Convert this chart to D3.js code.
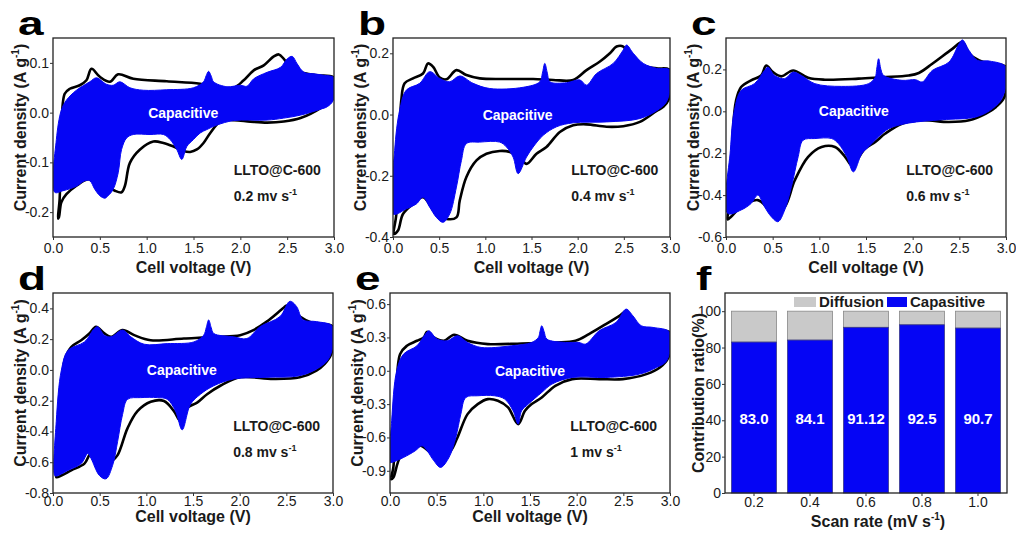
<!DOCTYPE html>
<html>
<head>
<meta charset="utf-8">
<script src="https://cdn.jsdelivr.net/npm/d3@7"></script>
<style>
body { margin: 0; background: #fff; }
text { font-family: "Liberation Sans", Arial, sans-serif; }
</style>
</head>
<body>
<svg id="fig" width="1016" height="534"></svg>
<script>
////////////////////////////////////////////////////////////////////////
// Data: [voltage (V), current density (A/g)]
// each loop is closed, anodic branch left->right then cathodic back

let outlineA = [[0.054,-0.213],[0.071,-0.174],[0.089,-0.041],[0.125,0.038],[0.179,0.048],[0.286,0.055],[0.357,0.065],[0.411,0.088],[0.5,0.072],[0.607,0.062],[0.696,0.077],[0.857,0.068],[1.214,0.063],[1.571,0.058],[1.75,0.05],[1.929,0.05],[2.036,0.065],[2.143,0.085],[2.25,0.095],[2.357,0.113],[2.411,0.117],[2.464,0.108],[2.536,0.091],[2.643,0.081],[2.821,0.075],[3.0,0.07],[2.982,0.035],[2.946,0.022],[2.857,0.009],[2.643,-0.011],[2.464,-0.018],[2.286,-0.02],[2.107,-0.018],[1.929,-0.015],[1.786,-0.018],[1.679,-0.041],[1.607,-0.061],[1.536,-0.074],[1.464,-0.079],[1.393,-0.077],[1.286,-0.068],[1.179,-0.061],[1.071,-0.058],[0.929,-0.074],[0.821,-0.101],[0.768,-0.147],[0.732,-0.16],[0.661,-0.157],[0.571,-0.147],[0.464,-0.14],[0.375,-0.134],[0.25,-0.147],[0.143,-0.164],[0.089,-0.18],[0.064,-0.21]];
let capA = [[0.018,-0.16],[0.036,-0.054],[0.089,0.005],[0.143,0.025],[0.25,0.045],[0.393,0.062],[0.464,0.07],[0.571,0.057],[0.643,0.055],[0.714,0.062],[0.821,0.05],[0.964,0.045],[1.214,0.046],[1.5,0.05],[1.607,0.062],[1.635,0.074],[1.661,0.083],[1.69,0.073],[1.714,0.062],[1.857,0.052],[2.0,0.055],[2.071,0.053],[2.143,0.068],[2.286,0.081],[2.429,0.091],[2.5,0.108],[2.554,0.113],[2.607,0.098],[2.679,0.081],[2.786,0.078],[2.893,0.075],[3.0,0.07],[2.993,0.025],[2.929,0.012],[2.857,0.007],[2.643,-0.005],[2.464,-0.011],[2.286,-0.015],[1.929,-0.016],[1.75,-0.025],[1.643,-0.034],[1.571,-0.041],[1.5,-0.054],[1.429,-0.068],[1.375,-0.094],[1.321,-0.074],[1.25,-0.054],[1.179,-0.044],[1.036,-0.044],[0.857,-0.044],[0.786,-0.051],[0.732,-0.074],[0.696,-0.121],[0.643,-0.154],[0.589,-0.167],[0.554,-0.172],[0.5,-0.167],[0.446,-0.154],[0.393,-0.137],[0.339,-0.137],[0.25,-0.148],[0.107,-0.157]];

let outlineB = [[0.011,-0.39],[0.036,-0.325],[0.065,-0.117],[0.09,0.047],[0.126,0.102],[0.217,0.118],[0.325,0.134],[0.379,0.167],[0.434,0.156],[0.506,0.121],[0.578,0.115],[0.687,0.145],[0.795,0.129],[0.94,0.118],[1.229,0.116],[1.518,0.116],[1.735,0.113],[1.952,0.113],[2.096,0.145],[2.241,0.173],[2.349,0.2],[2.421,0.222],[2.494,0.222],[2.566,0.189],[2.674,0.162],[2.855,0.151],[3.0,0.145],[2.982,0.047],[2.927,0.025],[2.855,0.012],[2.674,-0.024],[2.494,-0.038],[2.313,-0.04],[2.096,-0.032],[1.952,-0.035],[1.807,-0.057],[1.662,-0.106],[1.554,-0.128],[1.446,-0.161],[1.373,-0.139],[1.265,-0.122],[1.156,-0.119],[1.012,-0.128],[0.904,-0.15],[0.795,-0.204],[0.723,-0.281],[0.687,-0.336],[0.578,-0.341],[0.47,-0.325],[0.325,-0.27],[0.217,-0.292],[0.108,-0.325],[0.054,-0.379]];
let capB = [[0.0,-0.325],[0.018,-0.117],[0.072,0.014],[0.145,0.08],[0.289,0.102],[0.398,0.14],[0.506,0.118],[0.614,0.107],[0.723,0.126],[0.867,0.102],[1.048,0.085],[1.41,0.089],[1.59,0.107],[1.618,0.135],[1.644,0.167],[1.672,0.135],[1.699,0.107],[1.879,0.104],[2.024,0.113],[2.096,0.096],[2.205,0.134],[2.385,0.167],[2.494,0.211],[2.53,0.227],[2.602,0.2],[2.711,0.167],[2.855,0.151],[3.0,0.145],[2.971,0.047],[2.891,0.02],[2.674,-0.013],[2.313,-0.024],[1.952,-0.027],[1.771,-0.04],[1.626,-0.068],[1.518,-0.106],[1.446,-0.139],[1.355,-0.193],[1.301,-0.139],[1.229,-0.106],[1.156,-0.09],[0.94,-0.09],[0.795,-0.095],[0.741,-0.15],[0.687,-0.237],[0.614,-0.325],[0.542,-0.352],[0.47,-0.336],[0.398,-0.303],[0.325,-0.27],[0.253,-0.292],[0.145,-0.308]];

let outlineC = [[0.018,-0.516],[0.047,-0.424],[0.072,-0.106],[0.108,0.052],[0.162,0.116],[0.269,0.148],[0.377,0.171],[0.431,0.219],[0.503,0.187],[0.593,0.167],[0.719,0.195],[0.88,0.16],[1.06,0.151],[1.419,0.156],[1.671,0.163],[1.958,0.171],[2.066,0.183],[2.21,0.227],[2.425,0.298],[2.533,0.33],[2.605,0.275],[2.713,0.243],[2.857,0.227],[3.0,0.211],[2.982,0.068],[2.893,0.021],[2.785,-0.011],[2.605,-0.043],[2.389,-0.051],[2.102,-0.043],[1.886,-0.059],[1.707,-0.106],[1.599,-0.146],[1.491,-0.178],[1.401,-0.233],[1.347,-0.257],[1.276,-0.217],[1.168,-0.17],[1.024,-0.17],[0.88,-0.217],[0.737,-0.329],[0.629,-0.456],[0.521,-0.487],[0.341,-0.424],[0.162,-0.456],[0.054,-0.503]];
let capC = [[0.018,-0.487],[0.047,-0.186],[0.09,0.005],[0.162,0.1],[0.305,0.132],[0.413,0.195],[0.449,0.211],[0.521,0.171],[0.629,0.156],[0.719,0.187],[0.808,0.171],[0.952,0.132],[1.24,0.119],[1.527,0.132],[1.599,0.163],[1.614,0.2],[1.635,0.251],[1.66,0.2],[1.689,0.171],[1.886,0.148],[2.03,0.151],[2.102,0.14],[2.21,0.195],[2.389,0.235],[2.497,0.322],[2.533,0.341],[2.605,0.29],[2.695,0.243],[2.821,0.24],[3.0,0.211],[2.964,0.068],[2.857,0.013],[2.677,-0.027],[2.318,-0.04],[1.958,-0.056],[1.743,-0.083],[1.635,-0.122],[1.527,-0.17],[1.455,-0.202],[1.365,-0.289],[1.294,-0.217],[1.204,-0.154],[1.132,-0.13],[0.952,-0.13],[0.826,-0.138],[0.773,-0.217],[0.701,-0.36],[0.629,-0.471],[0.557,-0.527],[0.485,-0.503],[0.413,-0.456],[0.341,-0.4],[0.269,-0.44],[0.162,-0.471]];

let outlineD = [[0.035,-0.697],[0.06,-0.576],[0.089,-0.18],[0.124,0.062],[0.195,0.149],[0.302,0.193],[0.39,0.237],[0.461,0.281],[0.55,0.237],[0.621,0.215],[0.745,0.259],[0.87,0.226],[1.047,0.193],[1.402,0.204],[1.757,0.215],[2.006,0.226],[2.148,0.259],[2.29,0.314],[2.467,0.402],[2.503,0.418],[2.591,0.38],[2.645,0.347],[2.787,0.303],[3.0,0.281],[2.982,0.105],[2.911,0.04],[2.822,-0.004],[2.645,-0.048],[2.361,-0.059],[2.006,-0.048],[1.793,-0.103],[1.651,-0.158],[1.544,-0.213],[1.438,-0.246],[1.367,-0.334],[1.296,-0.268],[1.189,-0.202],[1.047,-0.207],[0.905,-0.268],[0.799,-0.378],[0.692,-0.554],[0.621,-0.598],[0.515,-0.631],[0.408,-0.543],[0.337,-0.609],[0.195,-0.653],[0.089,-0.686]];
let capD = [[0.018,-0.686],[0.035,-0.334],[0.089,-0.004],[0.16,0.127],[0.337,0.182],[0.444,0.27],[0.479,0.281],[0.55,0.226],[0.621,0.215],[0.745,0.259],[0.834,0.215],[0.976,0.167],[1.225,0.171],[1.509,0.182],[1.615,0.226],[1.642,0.275],[1.668,0.325],[1.695,0.275],[1.722,0.237],[1.935,0.215],[2.077,0.204],[2.219,0.281],[2.432,0.347],[2.538,0.446],[2.609,0.413],[2.68,0.325],[2.822,0.314],[3.0,0.281],[2.964,0.084],[2.858,0.018],[2.645,-0.037],[2.29,-0.048],[1.935,-0.059],[1.722,-0.103],[1.58,-0.158],[1.473,-0.224],[1.384,-0.389],[1.313,-0.268],[1.225,-0.191],[1.118,-0.18],[0.941,-0.18],[0.799,-0.191],[0.745,-0.29],[0.692,-0.466],[0.639,-0.62],[0.568,-0.708],[0.497,-0.686],[0.408,-0.576],[0.373,-0.543],[0.302,-0.609],[0.16,-0.653],[0.035,-0.69]];

let outlineE = [[0.011,-0.975],[0.036,-0.87],[0.065,-0.3],[0.108,0.15],[0.181,0.225],[0.289,0.27],[0.361,0.3],[0.398,0.351],[0.47,0.3],[0.578,0.27],[0.687,0.324],[0.831,0.27],[1.048,0.24],[1.41,0.246],[1.771,0.255],[1.988,0.27],[2.132,0.33],[2.313,0.42],[2.458,0.495],[2.53,0.534],[2.602,0.45],[2.711,0.375],[2.855,0.36],[3.0,0.345],[2.982,0.12],[2.891,0.03],[2.747,-0.03],[2.494,-0.075],[2.241,-0.075],[1.952,-0.075],[1.771,-0.135],[1.626,-0.24],[1.518,-0.3],[1.446,-0.36],[1.373,-0.48],[1.265,-0.33],[1.156,-0.27],[1.048,-0.255],[0.94,-0.3],[0.831,-0.39],[0.723,-0.6],[0.651,-0.72],[0.542,-0.78],[0.434,-0.735],[0.325,-0.675],[0.217,-0.72],[0.108,-0.78],[0.036,-0.96]];
let capE = [[0.0,-0.825],[0.018,-0.45],[0.072,0.0],[0.145,0.15],[0.289,0.225],[0.379,0.33],[0.416,0.36],[0.506,0.285],[0.614,0.27],[0.723,0.315],[0.831,0.255],[0.976,0.21],[1.301,0.225],[1.518,0.255],[1.59,0.3],[1.606,0.35],[1.626,0.405],[1.652,0.35],[1.681,0.285],[1.879,0.255],[2.024,0.255],[2.096,0.24],[2.241,0.36],[2.421,0.435],[2.53,0.555],[2.602,0.495],[2.692,0.405],[2.819,0.39],[3.0,0.345],[2.964,0.09],[2.855,0.03],[2.674,-0.03],[2.313,-0.06],[1.952,-0.06],[1.735,-0.12],[1.626,-0.195],[1.482,-0.3],[1.41,-0.36],[1.373,-0.48],[1.319,-0.36],[1.229,-0.255],[1.12,-0.225],[0.94,-0.225],[0.813,-0.24],[0.759,-0.39],[0.705,-0.6],[0.632,-0.78],[0.542,-0.87],[0.47,-0.81],[0.398,-0.72],[0.343,-0.675],[0.271,-0.72],[0.145,-0.78],[0.018,-0.825]];

// panel f: contribution ratio
let scanRates = ["0.2", "0.4", "0.6", "0.8", "1.0"];
let capacitive = [83.0, 84.1, 91.12, 92.5, 90.7];
let capLabels = ["83.0", "84.1", "91.12", "92.5", "90.7"];

// tick values
let voltTicks = [0, 0.5, 1.0, 1.5, 2.0, 2.5, 3.0];
let ticksA = [-0.2, -0.1, 0.0, 0.1];
let ticksB = [-0.4, -0.2, 0.0, 0.2];
let ticksC = [-0.6, -0.4, -0.2, 0.0, 0.2];
let ticksD = [-0.8, -0.6, -0.4, -0.2, 0.0, 0.2, 0.4];
let ticksE = [-0.9, -0.6, -0.3, 0.0, 0.3, 0.6];
let ratioTicks = [0, 20, 40, 60, 80, 100];

////////////////////////////////////////////////////////////////////////
// layout

let blue = "#0505f5";
let svg = d3.select("#fig");

// pad = tick label padding, tOff = offset of the x title below the box
let panels = [
  {id: "a", x0: 53,  x1: 334,  y0: 38,  y1: 237, yDom: [-0.25, 0.15], ticks: ticksA, outline: outlineA, cap: capA, rate: "0.2", pad: 3, tOff: 36, capV: 1.39},
  {id: "b", x0: 393, x1: 670,  y0: 38,  y1: 237, yDom: [-0.4, 0.25],  ticks: ticksB, outline: outlineB, cap: capB, rate: "0.4", pad: 3, tOff: 36, capV: 1.35},
  {id: "c", x0: 726, x1: 1006, y0: 38,  y1: 237, yDom: [-0.6, 0.35],  ticks: ticksC, outline: outlineC, cap: capC, rate: "0.6", pad: 3, tOff: 36, capV: 1.37},
  {id: "d", x0: 53,  x1: 333,  y0: 293, y1: 493, yDom: [-0.8, 0.5],   ticks: ticksD, outline: outlineD, cap: capD, rate: "0.8", pad: 0, tOff: 29, capV: 1.38},
  {id: "e", x0: 390, x1: 670,  y0: 293, y1: 493, yDom: [-1.1, 0.7],   ticks: ticksE, outline: outlineE, cap: capE, rate: "1",   pad: 0, tOff: 29, capV: 1.5}
];

function fmt1(d) { return (Math.abs(d) < 1e-9 ? 0 : d).toFixed(1); }

function styleAxis(g) {
  g.select(".domain").remove();
  g.selectAll(".tick line").attr("stroke", "#333");
  g.selectAll(".tick text").attr("font-size", 14).attr("fill", "#1a1a1a");
}

function yTitle(g, x, y, main, sup, tail) {
  let t = g.append("text")
    .attr("transform", "translate(" + x + "," + y + ") rotate(-90)")
    .attr("text-anchor", "middle")
    .attr("font-size", 16).attr("font-weight", "bold").attr("fill", "#1a1a1a");
  t.append("tspan").text(main);
  if (sup) {
    t.append("tspan").attr("font-size", 10).attr("dy", -7).text(sup);
    t.append("tspan").attr("dy", 7).text(tail);
  }
}

function panelLetter(x, y, s) {
  svg.append("text")
    .attr("transform", "translate(" + x + "," + y + ") scale(1.35,1)")
    .attr("font-size", 34).attr("font-weight", "bold").attr("fill", "#000")
    .text(s);
}

////////////////////////////////////////////////////////////////////////
// CV panels

panels.forEach(function(p) {
  let g = svg.append("g");
  let x = d3.scaleLinear().domain([0, 3]).range([p.x0, p.x1]);
  let y = d3.scaleLinear().domain(p.yDom).range([p.y1, p.y0]);

  let line = d3.line()
    .x(function(d) { return x(d[0]); })
    .y(function(d) { return y(d[1]); })
    .curve(d3.curveCatmullRomClosed.alpha(0.5));

  g.append("clipPath").attr("id", "clip" + p.id)
    .append("rect").attr("x", p.x0).attr("y", p.y0)
    .attr("width", p.x1 - p.x0).attr("height", p.y1 - p.y0);

  let plot = g.append("g").attr("clip-path", "url(#clip" + p.id + ")");
  plot.append("path").attr("d", line(p.outline))
    .attr("fill", "none").attr("stroke", "#000").attr("stroke-width", 2.6);
  plot.append("path").attr("d", line(p.cap))
    .attr("fill", blue).attr("stroke", blue).attr("stroke-width", 1);

  g.append("rect").attr("x", p.x0).attr("y", p.y0)
    .attr("width", p.x1 - p.x0).attr("height", p.y1 - p.y0)
    .attr("fill", "none").attr("stroke", "#222").attr("stroke-width", 1.3);

  g.append("g").attr("transform", "translate(0," + p.y1 + ")")
    .call(d3.axisBottom(x).tickValues(voltTicks).tickFormat(fmt1).tickSize(3).tickPadding(p.pad))
    .call(styleAxis);
  g.append("g").attr("transform", "translate(" + p.x0 + ",0)")
    .call(d3.axisLeft(y).tickValues(p.ticks).tickFormat(fmt1).tickSize(3).tickPadding(1))
    .call(styleAxis);

  let h = p.y1 - p.y0;
  g.append("text").attr("x", (p.x0 + p.x1) / 2).attr("y", p.y1 + p.tOff)
    .attr("text-anchor", "middle").attr("font-size", 16).attr("font-weight", "bold")
    .attr("fill", "#1a1a1a").text("Cell voltage (V)");
  yTitle(g, p.x0 - 27, (p.y0 + p.y1) / 2 - 10, "Current density (A g", "-1", ")");

  g.append("text").attr("x", x(p.capV)).attr("y", y(0) + 5)
    .attr("text-anchor", "middle").attr("font-size", 14).attr("font-weight", "bold")
    .attr("fill", "#fff").text("Capacitive");
  g.append("text").attr("x", x(1.93)).attr("y", p.y0 + h * 0.69)
    .attr("font-size", 14).attr("font-weight", "bold").attr("fill", "#1a1a1a")
    .text("LLTO@C-600");
  let r = g.append("text").attr("x", x(1.93)).attr("y", p.y0 + h * 0.82)
    .attr("font-size", 14).attr("font-weight", "bold").attr("fill", "#1a1a1a");
  r.append("tspan").text(p.rate + " mv s");
  r.append("tspan").attr("font-size", 9).attr("dy", -6).text("-1");

  panelLetter(p.x0 - 35, p.y0 - 3, p.id);
});

////////////////////////////////////////////////////////////////////////
// panel f: stacked bars

let fx0 = 725, fx1 = 1007, fy0 = 293, fy1 = 493;
let xBand = d3.scaleBand().domain(scanRates).range([fx0, fx1])
  .paddingInner(0.196).paddingOuter(0.116);
let yRatio = d3.scaleLinear().domain([0, 110]).range([fy1, fy0]);
let gf = svg.append("g");

gf.selectAll(".diff").data(scanRates).enter().append("rect")
  .attr("class", "diff")
  .attr("x", function(d) { return xBand(d); })
  .attr("y", yRatio(100))
  .attr("width", xBand.bandwidth())
  .attr("height", function(d, i) { return yRatio(capacitive[i]) - yRatio(100); })
  .attr("fill", "#c9c9c9").attr("stroke", "#888").attr("stroke-width", 0.8);

gf.selectAll(".capb").data(scanRates).enter().append("rect")
  .attr("class", "capb")
  .attr("x", function(d) { return xBand(d); })
  .attr("y", function(d, i) { return yRatio(capacitive[i]); })
  .attr("width", xBand.bandwidth())
  .attr("height", function(d, i) { return yRatio(0) - yRatio(capacitive[i]); })
  .attr("fill", blue).attr("stroke", "#3a3a8a").attr("stroke-width", 0.8);

gf.selectAll(".vlab").data(scanRates).enter().append("text")
  .attr("class", "vlab")
  .attr("x", function(d) { return xBand(d) + xBand.bandwidth() / 2; })
  .attr("y", yRatio(38))
  .attr("text-anchor", "middle").attr("font-size", 15).attr("font-weight", "bold")
  .attr("fill", "#fff")
  .text(function(d, i) { return capLabels[i]; });

gf.append("rect").attr("x", fx0).attr("y", fy0)
  .attr("width", fx1 - fx0).attr("height", fy1 - fy0)
  .attr("fill", "none").attr("stroke", "#222").attr("stroke-width", 1.3);

gf.append("g").attr("transform", "translate(0," + fy1 + ")")
  .call(d3.axisBottom(xBand).tickSize(3).tickPadding(1))
  .call(styleAxis);
gf.append("g").attr("transform", "translate(" + fx0 + ",0)")
  .call(d3.axisLeft(yRatio).tickValues(ratioTicks).tickSize(3).tickPadding(1))
  .call(styleAxis);

// legend
gf.append("rect").attr("x", 794).attr("y", 297).attr("width", 22).attr("height", 10).attr("fill", "#c9c9c9");
gf.append("text").attr("x", 819).attr("y", 307).attr("font-size", 15).attr("font-weight", "bold")
  .attr("fill", "#1a1a1a").text("Diffusion");
gf.append("rect").attr("x", 887).attr("y", 297).attr("width", 20).attr("height", 10).attr("fill", blue);
gf.append("text").attr("x", 910).attr("y", 307).attr("font-size", 15).attr("font-weight", "bold")
  .attr("fill", "#1a1a1a").text("Capasitive");

let st = gf.append("text").attr("x", 878).attr("y", fy1 + 34)
  .attr("text-anchor", "middle").attr("font-size", 16).attr("font-weight", "bold").attr("fill", "#1a1a1a");
st.append("tspan").text("Scan rate (mV s");
st.append("tspan").attr("font-size", 10).attr("dy", -7).text("-1");
st.append("tspan").attr("dy", 7).text(")");

yTitle(gf, fx0 - 21, (fy0 + fy1) / 2, "Contribution ratio(%)");
panelLetter(fx0 - 29, fy0 - 3, "f");
</script>
</body>
</html>
